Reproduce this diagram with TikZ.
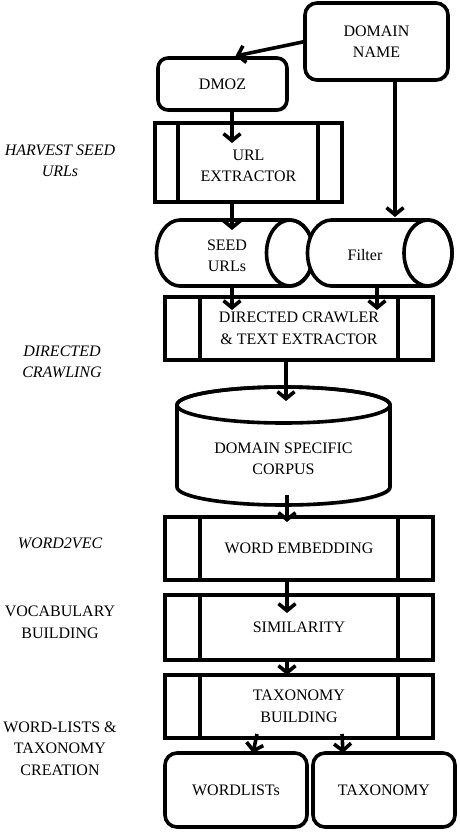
\documentclass[tikz,border=0pt]{standalone}
\usepackage{fontspec}
\setmainfont{Liberation Serif}
\usetikzlibrary{arrows.meta,shadows}
\begin{document}
\begin{tikzpicture}[x=1pt,y=-1pt,
  txt/.style={font=\fontsize{16}{21.5}\selectfont, align=center, inner sep=0pt},
  itxt/.style={font=\fontsize{16}{21.5}\selectfont\itshape, align=center, inner sep=0pt},
  ln/.style={line width=3.6pt},
  shad/.style={drop shadow={shadow xshift=1.5pt, shadow yshift=-2pt, opacity=0.3, fill=black!60}},
  rbox/.style={txt, draw, ln, fill=white, rounded corners=12pt, shad, outer sep=0pt},
  pbox/.style={txt, draw, ln, fill=white, shad, outer sep=0pt, minimum width=268pt},
  arr/.style={ln, -{Straight Barb[length=7pt, width=17pt]}}
]
\useasboundingbox[fill=white] (0,0) rectangle (460,838);

% top boxes
\node[rbox, minimum width=143pt, minimum height=77pt] (dn) at (376.5,41.5) {DOMAIN\\NAME};
\node[rbox, minimum width=129pt, minimum height=52pt, rounded corners=10pt] (dmoz) at (222.5,84) {DMOZ};
\node[pbox, minimum width=187pt, minimum height=79pt] (url) at (248.5,162.5) {};
\draw[ln] ([xshift=23pt]url.north west) -- ([xshift=23pt]url.south west);
\draw[ln] ([xshift=-24pt]url.north east) -- ([xshift=-24pt]url.south east);
\node[txt] (urlt) at (248.5,166) {URL\\EXTRACTOR};

% seed cylinder
\filldraw[ln, fill=white, shad] (180,220) -- (290,220) arc[start angle=90, end angle=-90, x radius=23.5pt, y radius=33pt]
  -- (180,286) arc[start angle=270, end angle=90, x radius=23.5pt, y radius=33pt] -- cycle;
\draw[ln] (290,253) ellipse [x radius=23.5pt, y radius=33pt];
\node[txt] (seed) at (227,256) {SEED\\URLs};
% filter cylinder
\filldraw[ln, fill=white, shad] (331.5,220) -- (428,220) arc[start angle=90, end angle=-90, x radius=24pt, y radius=33pt]
  -- (331.5,286) arc[start angle=270, end angle=90, x radius=24pt, y radius=33pt] -- cycle;
\draw[ln] (428,253) ellipse [x radius=24pt, y radius=33pt];
\node[txt] (filter) at (365,255) {Filter};
\coordinate (seedtop) at (232,230);
\coordinate (seedbot) at (232,286);
\coordinate (filtop) at (395,217);
\coordinate (filbot) at (377,286);

% directed crawler
\node[pbox, minimum height=63pt] (dc) at (299,328.5) {DIRECTED CRAWLER\\\& TEXT EXTRACTOR};
\draw[ln] ([xshift=35pt]dc.north west) -- ([xshift=35pt]dc.south west);
\draw[ln] ([xshift=-35pt]dc.north east) -- ([xshift=-35pt]dc.south east);

% corpus cylinder
\filldraw[ln, fill=white, shad] (177,405) -- (177,487) arc[start angle=180, end angle=360, x radius=106.5pt, y radius=18pt]
  -- (390,405) arc[start angle=0, end angle=180, x radius=106.5pt, y radius=18pt] -- cycle;
\draw[ln] (283.5,405) ellipse [x radius=106.5pt, y radius=18pt];
\node[txt] (corpus) at (283.5,459) {DOMAIN SPECIFIC\\CORPUS};
\coordinate (cortop) at (286,401);
\coordinate (corbot) at (287,495);

% process boxes
\node[pbox, minimum height=63pt] (we) at (299,548.5) {WORD EMBEDDING};
\draw[ln] ([xshift=35pt]we.north west) -- ([xshift=35pt]we.south west);
\draw[ln] ([xshift=-35pt]we.north east) -- ([xshift=-35pt]we.south east);
\node[pbox, minimum height=65pt] (sim) at (299,627.5) {SIMILARITY};
\draw[ln] ([xshift=35pt]sim.north west) -- ([xshift=35pt]sim.south west);
\draw[ln] ([xshift=-35pt]sim.north east) -- ([xshift=-35pt]sim.south east);
\node[pbox, minimum height=63pt] (tb) at (299,706.5) {TAXONOMY\\BUILDING};
\draw[ln] ([xshift=35pt]tb.north west) -- ([xshift=35pt]tb.south west);
\draw[ln] ([xshift=-35pt]tb.north east) -- ([xshift=-35pt]tb.south east);

% bottom boxes
\node[rbox, minimum width=142pt, minimum height=74pt] (wl) at (236,790) {WORDLISTs};
\node[rbox, minimum width=142pt, minimum height=74pt] (tx) at (384,790) {TAXONOMY};

% arrows
\draw[arr] (dn.west) -- ([xshift=13pt,yshift=2pt]dmoz.north);
\draw[arr] ([xshift=18.5pt]dn.south) -- (filtop);
\draw[arr] ([xshift=9.5pt]dmoz.south) -- ([xshift=-16.5pt,yshift=-20pt]url.north);
\draw[arr] ([xshift=-16.5pt]url.south) -- (seedtop);
\draw[arr] (seedbot) -- ([xshift=-67pt,yshift=-13pt]dc.north);
\draw[arr] (filbot) -- ([xshift=78pt,yshift=-13pt]dc.north);
\draw[arr] ([xshift=-13pt]dc.south) -- (cortop);
\draw[arr] (corbot) -- ([xshift=-12pt,yshift=-5pt]we.north);
\draw[arr] ([xshift=-12pt]we.south) -- ([xshift=-12pt,yshift=-18pt]sim.north);
\draw[arr] ([xshift=-12pt]sim.south) -- ([xshift=-12pt]tb.north);
\draw[arr] ([xshift=-42pt,yshift=4pt]tb.south) -- ([xshift=17pt]wl.north);
\draw[arr] ([xshift=43pt,yshift=4pt]tb.south) -- ([xshift=-41pt]tx.north);

% left labels
\node[itxt] (l1) at (60,161) {HARVEST SEED\\URLs};
\node[itxt] (l2) at (62,362) {DIRECTED\\CRAWLING};
\node[itxt] (l3) at (60,543) {WORD2VEC};
\node[txt] (l4) at (60,622.5) {VOCABULARY\\BUILDING};
\node[txt] (l5) at (60,748.5) {WORD-LISTS \&\\TAXONOMY\\CREATION};
\end{tikzpicture}
\end{document}
